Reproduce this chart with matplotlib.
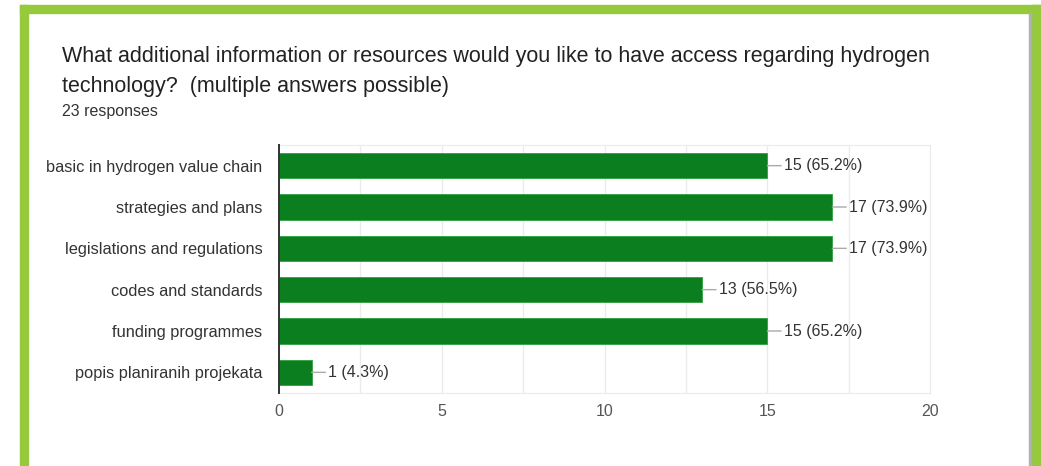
"""Google Forms style horizontal bar chart: hydrogen technology resources."""

import matplotlib.pyplot as plt
from matplotlib.patches import Rectangle

categories = ['basic in hydrogen value chain', 'strategies and plans',
              'legislations and regulations', 'codes and standards',
              'funding programmes', 'popis planiranih projekata']
counts = [15, 17, 17, 13, 15, 1]
percents = [65.2, 73.9, 73.9, 56.5, 65.2, 4.3]
x_ticks = [0, 5, 10, 15, 20]

plt.rcParams['font.family'] = ['Liberation Sans', 'DejaVu Sans']

fig = plt.figure(figsize=(10.41, 4.66), dpi=100)
W, H = 1041, 466

# green frame round the white card
green = '#97c93d'
fig.patches.append(Rectangle((20 / W, 0), 8 / W, 1 - 5 / H, transform=fig.transFigure,
                             color=green, zorder=0))
fig.patches.append(Rectangle((20 / W, 1 - 13 / H), 1021 / W, 8 / H, transform=fig.transFigure,
                             color=green, zorder=0))
fig.patches.append(Rectangle((1031 / W, 0), 10 / W, 1 - 5 / H, transform=fig.transFigure,
                             color=green, zorder=0))
fig.patches.append(Rectangle((1029 / W, 0), 2 / W, 1 - 13 / H, transform=fig.transFigure,
                             color='#b0b0b0', zorder=0))

fig.text(62 / W, 1 - 62 / H, 'What additional information or resources would you like to have access regarding hydrogen',
         fontsize=15.5, color='#222222', va='baseline')
fig.text(62 / W, 1 - 92 / H, 'technology?  (multiple answers possible)',
         fontsize=15.5, color='#222222', va='baseline')
fig.text(62 / W, 1 - 116 / H, '23 responses', fontsize=11.5, color='#333333', va='baseline')

ax = fig.add_axes([279 / W, 1 - 393 / H, (930 - 279) / W, (393 - 145) / H])
y = list(range(len(categories)))
ax.barh(y, counts, height=0.62, color='#0b7f1f', edgecolor='#2fa040', linewidth=0.6, zorder=3)

for yi, c, p in zip(y, counts, percents):
    ax.annotate(f'{c} ({p}%)', xy=(c, yi), xytext=(12, 0), textcoords='offset points',
                ha='left', va='center', fontsize=11.5, color='#333333',
                arrowprops=dict(arrowstyle='-', color='#aaaaaa', lw=1, shrinkA=0, shrinkB=0),
                zorder=4)

ax.set_xlim(0, 20)
ax.set_ylim(len(categories) - 0.5, -0.5)
ax.set_yticks(y)
ax.set_yticklabels(categories, fontsize=11.8, color='#333333')
ax.set_xticks(x_ticks)
ax.set_xticks([2.5, 7.5, 12.5, 17.5], minor=True)
ax.tick_params(axis='x', which='both', length=0, pad=8, labelsize=11.5, labelcolor='#555555')
ax.tick_params(axis='y', length=0, pad=12)
ax.grid(axis='x', which='both', color='#ebebeb', lw=1, zorder=0)

for s in ['top', 'right', 'bottom']:
    ax.spines[s].set_color('#ebebeb')
ax.spines['left'].set_color('#333333')
ax.spines['left'].set_linewidth(1.4)
ax.spines['left'].set_zorder(5)

fig.savefig('out.png', dpi=100)
